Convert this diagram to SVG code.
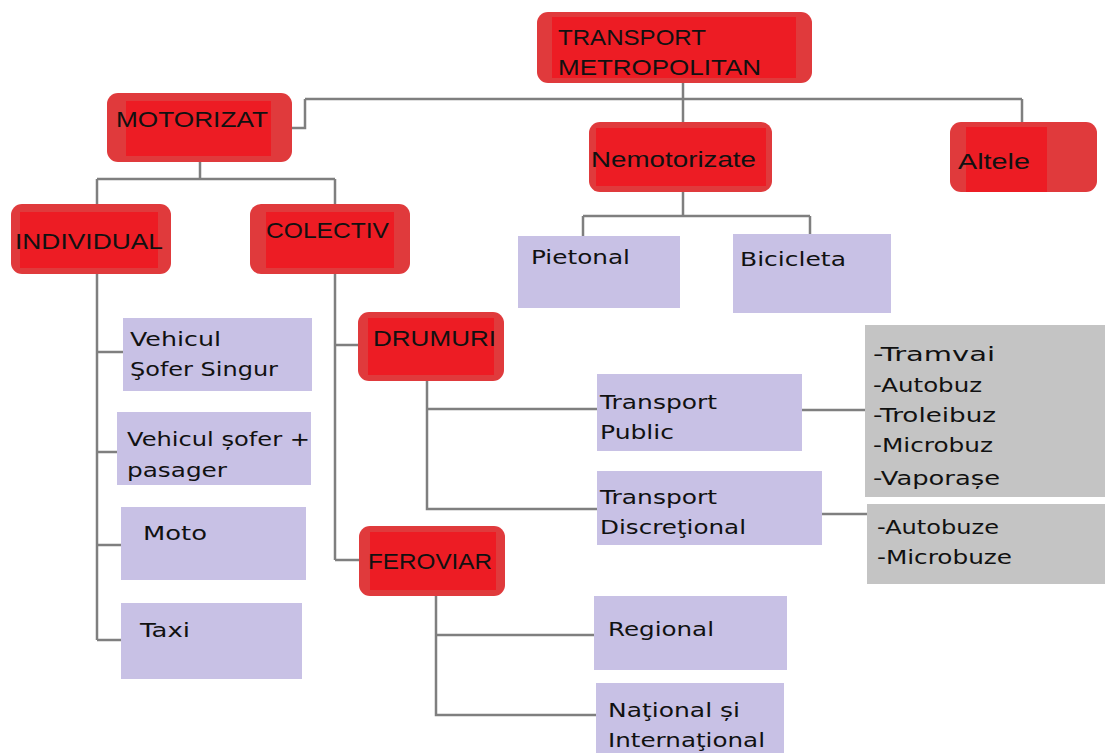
<svg xmlns="http://www.w3.org/2000/svg" width="1105" height="753" viewBox="0 0 1105 753">
<style>
.ro{fill:#E03A3C;}
.ri{fill:#ED1C24;}
.lv{fill:#C8C1E5;}
.gy{fill:#C4C4C4;}
.rt{font-family:"Liberation Sans",Arial,sans-serif;font-size:22px;fill:#111;}
.lt{font-family:"DejaVu Sans",Verdana,sans-serif;font-size:20px;fill:#111;}
.cn{fill:none;stroke:#7F7F7F;stroke-width:2.5;}
</style>
<rect width="1105" height="753" fill="#fff"/>
<g id="connectors" class="cn">
<path d="M683 83V99M305 99H1022M305 99V128H292M683 99V122M1022 99V122"/>
<path d="M200 162V179M97 179H335M97 179V204M335 179V204"/>
<path d="M97 274V640M97 352H123M97 452H117M97 545H121M97 640H121"/>
<path d="M335 274V560M335 345H358M335 560H359"/>
<path d="M427 381V509H597M427 409H597"/>
<path d="M802 410H865M822 514H867"/>
<path d="M436 596V715H596M436 635H594"/>
<path d="M683 192V216M583 216H810M583 216V236M810 216V234"/>
</g>
<g id="n-transport"><rect class="ro" x="537" y="12" width="275" height="71" rx="11"/><rect class="ri" x="552" y="17" width="244" height="61"/>
<text class="rt" x="558" y="45" textLength="148" lengthAdjust="spacingAndGlyphs">TRANSPORT</text><text class="rt" x="558" y="75" textLength="203" lengthAdjust="spacingAndGlyphs">METROPOLITAN</text></g>
<g id="n-motorizat"><rect class="ro" x="107" y="93" width="185" height="69" rx="11"/><rect class="ri" x="126" y="101" width="145" height="55"/>
<text class="rt" x="116" y="127" textLength="152" lengthAdjust="spacingAndGlyphs">MOTORIZAT</text></g>
<g id="n-individual"><rect class="ro" x="11" y="204" width="160" height="70" rx="11"/><rect class="ri" x="20" y="212" width="138" height="56"/>
<text class="rt" x="15" y="249" textLength="148" lengthAdjust="spacingAndGlyphs">INDIVIDUAL</text></g>
<g id="n-colectiv"><rect class="ro" x="250" y="204" width="160" height="70" rx="11"/><rect class="ri" x="266" y="212" width="128" height="56"/>
<text class="rt" x="266" y="238" textLength="123" lengthAdjust="spacingAndGlyphs">COLECTIV</text></g>
<g id="n-nemotorizate"><rect class="ro" x="589" y="122" width="183" height="70" rx="11"/><rect class="ri" x="596" y="128" width="170" height="58"/>
<text class="rt" x="591" y="167" textLength="165" lengthAdjust="spacingAndGlyphs">Nemotorizate</text></g>
<g id="n-altele"><rect class="ro" x="950" y="122" width="147" height="70" rx="11"/><rect class="ri" x="966" y="127" width="81" height="65"/>
<text class="rt" x="958" y="169" textLength="72" lengthAdjust="spacingAndGlyphs">Altele</text></g>
<g id="n-drumuri"><rect class="ro" x="358" y="312" width="146" height="69" rx="11"/><rect class="ri" x="368" y="318" width="126" height="57"/>
<text class="rt" x="373" y="346" textLength="123" lengthAdjust="spacingAndGlyphs">DRUMURI</text></g>
<g id="n-feroviar"><rect class="ro" x="359" y="526" width="146" height="70" rx="11"/><rect class="ri" x="370" y="532" width="126" height="58"/>
<text class="rt" x="368" y="569" textLength="124" lengthAdjust="spacingAndGlyphs">FEROVIAR</text></g>
<g id="n-vehicul-singur"><rect class="lv" x="123" y="318" width="189" height="73"/>
<text class="lt" x="130" y="346" textLength="91" lengthAdjust="spacingAndGlyphs">Vehicul</text><text class="lt" x="130" y="376" textLength="148" lengthAdjust="spacingAndGlyphs">Şofer Singur</text></g>
<g id="n-vehicul-pasager"><rect class="lv" x="117" y="412" width="194" height="73"/>
<text class="lt" x="127" y="446" textLength="183" lengthAdjust="spacingAndGlyphs">Vehicul șofer +</text><text class="lt" x="127" y="477" textLength="100" lengthAdjust="spacingAndGlyphs">pasager</text></g>
<g id="n-moto"><rect class="lv" x="121" y="507" width="185" height="73"/>
<text class="lt" x="143" y="540" textLength="64" lengthAdjust="spacingAndGlyphs">Moto</text></g>
<g id="n-taxi"><rect class="lv" x="121" y="603" width="181" height="76"/>
<text class="lt" x="140" y="637" textLength="50" lengthAdjust="spacingAndGlyphs">Taxi</text></g>
<g id="n-pietonal"><rect class="lv" x="518" y="236" width="162" height="72"/>
<text class="lt" x="531" y="264" textLength="99" lengthAdjust="spacingAndGlyphs">Pietonal</text></g>
<g id="n-bicicleta"><rect class="lv" x="733" y="234" width="158" height="79"/>
<text class="lt" x="740" y="266" textLength="106" lengthAdjust="spacingAndGlyphs">Bicicleta</text></g>
<g id="n-public"><rect class="lv" x="597" y="374" width="205" height="77"/>
<text class="lt" x="600" y="409" textLength="117" lengthAdjust="spacingAndGlyphs">Transport</text><text class="lt" x="600" y="439" textLength="74" lengthAdjust="spacingAndGlyphs">Public</text></g>
<g id="n-discretional"><rect class="lv" x="597" y="471" width="225" height="74"/>
<text class="lt" x="600" y="504" textLength="117" lengthAdjust="spacingAndGlyphs">Transport</text><text class="lt" x="600" y="534" textLength="146" lengthAdjust="spacingAndGlyphs">Discreţional</text></g>
<g id="n-public-list"><rect class="gy" x="865" y="325" width="240" height="172"/>
<text class="lt" x="873" y="361" textLength="122" lengthAdjust="spacingAndGlyphs">-Tramvai</text>
<text class="lt" x="873" y="392" textLength="109" lengthAdjust="spacingAndGlyphs">-Autobuz</text>
<text class="lt" x="873" y="422" textLength="123" lengthAdjust="spacingAndGlyphs">-Troleibuz</text>
<text class="lt" x="873" y="452" textLength="120" lengthAdjust="spacingAndGlyphs">-Microbuz</text>
<text class="lt" x="873" y="485" textLength="127" lengthAdjust="spacingAndGlyphs">-Vaporașe</text></g>
<g id="n-discretional-list"><rect class="gy" x="867" y="504" width="238" height="80"/>
<text class="lt" x="877" y="534" textLength="122" lengthAdjust="spacingAndGlyphs">-Autobuze</text>
<text class="lt" x="877" y="564" textLength="135" lengthAdjust="spacingAndGlyphs">-Microbuze</text></g>
<g id="n-regional"><rect class="lv" x="594" y="596" width="193" height="74"/>
<text class="lt" x="608" y="636" textLength="106" lengthAdjust="spacingAndGlyphs">Regional</text></g>
<g id="n-national"><rect class="lv" x="596" y="683" width="188" height="70"/>
<text class="lt" x="608" y="717" textLength="132" lengthAdjust="spacingAndGlyphs">Naţional și</text><text class="lt" x="608" y="747" textLength="157" lengthAdjust="spacingAndGlyphs">Internaţional</text></g>
</svg>
